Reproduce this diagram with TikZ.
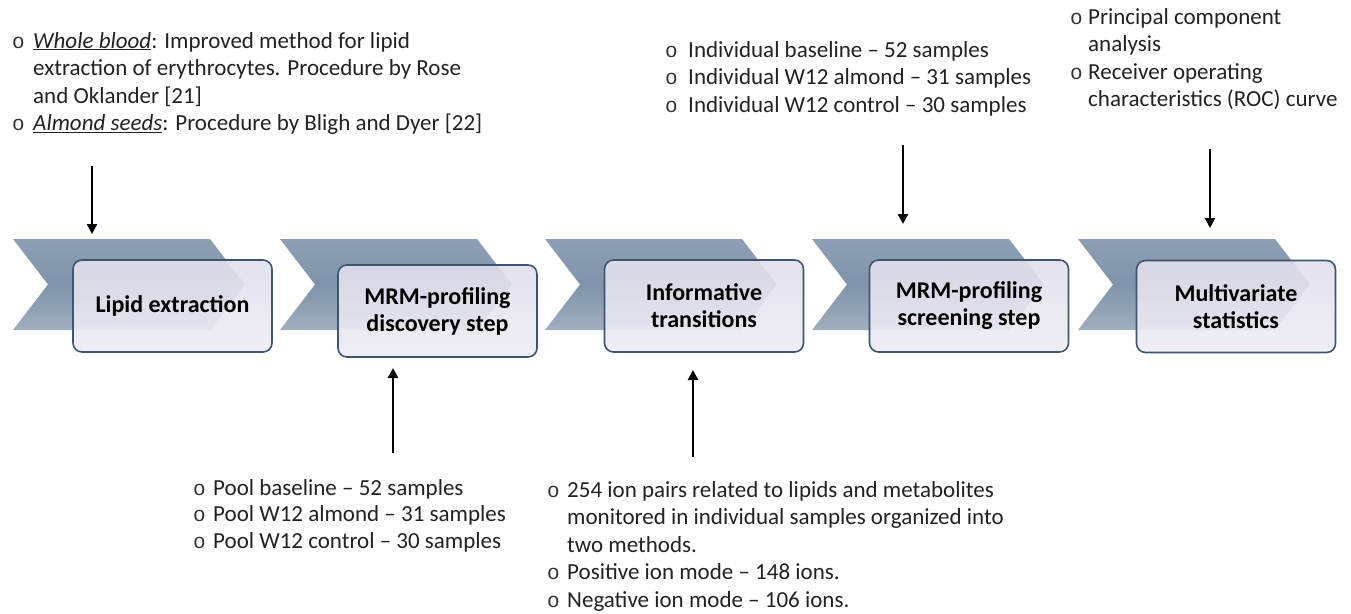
\documentclass[tikz,border=0pt]{standalone}
\usepackage{fontspec}
\setmainfont{Carlito}
\newfontfamily\bulletfont{Liberation Mono}
\usetikzlibrary{arrows.meta}
\definecolor{chevtop}{HTML}{8E9FB4}
\definecolor{chevmid}{HTML}{8093AA}
\definecolor{chevbot}{HTML}{A0AEBE}
\definecolor{boxline}{HTML}{3E5571}
\definecolor{boxtop}{HTML}{E1DFEC}
\definecolor{boxbot}{HTML}{EEEDF5}
\definecolor{txt}{HTML}{222222}
\definecolor{bulc}{HTML}{333333}
\newcommand{\bul}{\leavevmode{\bulletfont\fontsize{21}{21}\selectfont\color{bulc}o}}
\begin{document}
\begin{tikzpicture}[x=1pt,y=-1pt,
  chev/.style={top color=chevtop, bottom color=chevbot, middle color=chevmid},
  stepbox/.style={draw=boxline, line width=1.6pt, rounded corners=9pt,
    top color=boxtop, bottom color=boxbot, fill opacity=0.9, text opacity=1,
    minimum width=199pt, minimum height=92pt, inner sep=0pt, align=center,
    font=\fontsize{24}{27}\selectfont\bfseries, text=black},
  note/.style={anchor=base west, inner sep=0pt, font=\fontsize{23}{27.5}\selectfont, text=txt},
  arr/.style={line width=2.4pt, -{Triangle[length=10pt,width=10pt]}}
]
\fill[white] (0,0) rectangle (1351,613);
\useasboundingbox (0,0) rectangle (1351,613);

% chevrons
\foreach \x in {13,280,545,812,1078}{
  \path[chev] (\x,239) -- (\x+197,239) -- (\x+232,284.5) -- (\x+197,330)
    -- (\x,330) -- (\x+35,284.5) -- cycle;
}

% step boxes
\node[stepbox] (b1) at (172.5,306) {Lipid extraction};
\node[stepbox] (b2) at (437.5,311) {MRM-profiling\\discovery step};
\node[stepbox] (b3) at (704,306) {Informative\\transitions};
\node[stepbox] (b4) at (969,306) {MRM-profiling\\screening step};
\node[stepbox] (b5) at (1236,306.5) {Multivariate\\statistics};

% notes
\node[note] (n1) at (12,48) {\begin{tabular}[t]{@{}p{21pt}@{}l@{}}
\bul & \underline{\textit{Whole blood}}: Improved method for lipid\\
 & extraction of erythrocytes. Procedure by Rose\\
 & and Oklander [21]\\
\bul & \underline{\textit{Almond seeds}}: Procedure by Bligh and Dyer [22]
\end{tabular}};

\node[note] (n2) at (665,57) {\begin{tabular}[t]{@{}p{23pt}@{}l@{}}
\bul & Individual baseline -- 52 samples\\
\bul & Individual W12 almond -- 31 samples\\
\bul & Individual W12 control -- 30 samples
\end{tabular}};

\node[note] (n3) at (1070,24) {\begin{tabular}[t]{@{}p{18pt}@{}l@{}}
\bul & Principal component\\
 & analysis\\
\bul & Receiver operating\\
 & characteristics (ROC) curve
\end{tabular}};

\node[note, font=\fontsize{23}{26.5}\selectfont] (n4) at (193,495) {\begin{tabular}[t]{@{}p{20pt}@{}l@{}}
\bul & Pool baseline -- 52 samples\\
\bul & Pool W12 almond -- 31 samples\\
\bul & Pool W12 control -- 30 samples
\end{tabular}};

\node[note] (n5) at (547,497) {\begin{tabular}[t]{@{}p{20pt}@{}l@{}}
\bul & 254 ion pairs related to lipids and metabolites\\
 & monitored in individual samples organized into\\
 & two methods.\\
\bul & Positive ion mode -- 148 ions.\\
\bul & Negative ion mode -- 106 ions.
\end{tabular}};

% arrows
\coordinate (a1s) at (92,166);   \coordinate (a1e) at (92,234);
\coordinate (a2s) at (393,453);  \coordinate (a2e) at (393,368);
\coordinate (a3s) at (693,457);  \coordinate (a3e) at (693,370);
\coordinate (a4s) at (903,145);  \coordinate (a4e) at (903,224);
\coordinate (a5s) at (1210,149); \coordinate (a5e) at (1210,228);
\draw[arr] (a1s) -- (a1e);
\draw[arr] (a2s) -- (a2e);
\draw[arr] (a3s) -- (a3e);
\draw[arr] (a4s) -- (a4e);
\draw[arr] (a5s) -- (a5e);
\end{tikzpicture}
\end{document}
